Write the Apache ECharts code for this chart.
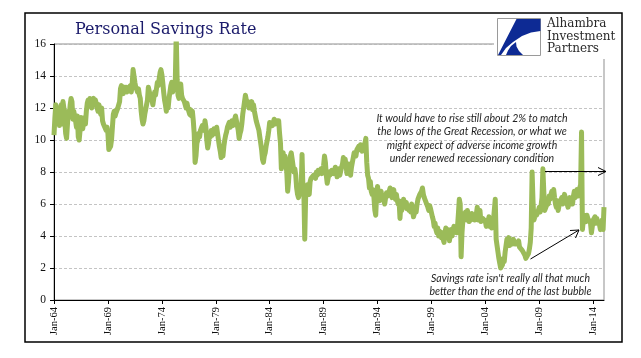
<!DOCTYPE html>
<html><head><meta charset="utf-8">
<script src="https://cdn.jsdelivr.net/npm/echarts@6/dist/echarts.min.js"></script>
<style>html,body{margin:0;padding:0;background:#fff}#c{width:641px;height:358px}</style>
</head><body><div id="c"></div>
<script>
const titleText = 'Personal Savings Rate';
const startYear = 1964;
const monthNames = ['Jan','Feb','Mar','Apr','May','Jun','Jul','Aug','Sep','Oct','Nov','Dec'];
const tickLabels = ['Jan-64','Jan-69','Jan-74','Jan-79','Jan-84','Jan-89','Jan-94','Jan-99','Jan-04','Jan-09','Jan-14'];
const yMin = 0, yMax = 16, yStep = 2;
// monthly personal savings rate, Jan 1964 .. Jan 2015
const savingsRate = [
  10.3,11.4,12.2,12.3,11.2,12.0,10.9,11.8,12.2,11.0,12.4,12.0, // 1964
  11.2,10.4,10.1,11.0,11.8,11.5,12.2,12.6,12.4,11.3,11.8,11.5, // 1965
  11.2,10.8,11.5,10.2,10.0,10.6,11.4,11.0,10.7,11.2,11.4,11.0, // 1966
  11.8,12.3,12.5,12.2,12.6,12.3,12.0,12.4,12.6,12.2,12.5,12.3, // 1967
  12.0,11.8,12.2,11.9,11.6,12.0,11.2,11.0,10.9,11.0,10.6,10.8, // 1968
  10.4,9.4,9.3,9.6,10.0,10.8,11.6,11.8,11.5,11.7,11.8,12.0,    // 1969
  12.0,12.4,13.2,13.4,13.3,12.9,13.3,13.1,13.3,13.0,13.2,13.3, // 1970
  13.2,13.4,13.0,13.5,14.4,14.5,13.6,13.3,13.2,13.0,13.2,12.8, // 1971
  12.6,11.8,11.3,11.0,11.2,11.6,11.5,12.2,12.5,13.3,13.2,12.8, // 1972
  12.8,12.5,12.2,12.6,13.0,12.8,13.2,13.6,13.4,13.8,14.2,14.4, // 1973
  14.1,13.6,13.0,12.5,12.2,11.8,12.4,12.0,12.6,13.0,13.4,13.6, // 1974
  13.0,13.2,13.4,13.8,16.6,13.8,12.8,12.6,13.0,13.5,12.8,12.6, // 1975
  12.6,12.4,12.2,12.0,12.3,12.0,11.8,11.6,11.9,11.5,11.8,11.2, // 1976
  10.4,8.6,9.0,9.8,10.0,10.4,10.2,10.6,10.5,10.9,11.0,10.6,    // 1977
  11.2,10.8,10.0,9.5,9.8,10.4,10.2,10.6,10.3,10.5,10.7,10.4,   // 1978
  10.6,10.8,10.4,10.0,9.6,9.3,8.9,9.2,9.0,9.6,10.0,10.3,       // 1979
  10.5,10.8,10.9,11.1,10.8,11.0,11.2,10.9,11.0,11.3,11.5,11.6, // 1980
  11.4,10.6,10.1,10.4,10.6,11.0,11.6,12.0,12.4,12.8,12.5,12.2, // 1981
  12.4,12.0,12.3,12.1,12.4,11.9,12.2,11.8,11.5,11.2,11.0,11.1, // 1982
  10.6,10.2,9.8,9.4,8.8,8.6,9.0,9.2,9.6,9.5,10.2,10.6,         // 1983
  11.1,11.0,11.2,10.9,11.1,11.3,11.0,11.2,11.3,11.1,11.2,10.4, // 1984
  9.8,8.2,8.8,9.2,8.5,9.0,8.6,8.0,6.8,7.4,8.4,9.0,             // 1985
  9.2,8.8,8.4,8.0,8.2,7.8,7.0,6.6,6.4,6.6,7.0,6.8,             // 1986
  9.1,7.0,6.8,3.8,6.4,6.8,7.2,7.0,6.6,7.4,7.6,7.5,             // 1987
  7.6,7.8,7.9,7.6,8.0,7.8,8.1,7.9,8.0,8.2,7.9,8.1,             // 1988
  8.4,9.0,8.6,7.8,7.3,7.6,8.0,7.8,7.7,8.1,8.2,7.9,             // 1989
  8.0,8.3,8.1,7.7,8.0,8.2,7.8,7.9,8.3,8.5,8.9,8.6,             // 1990
  8.8,8.4,7.9,8.2,8.5,8.1,7.8,8.3,8.6,8.9,9.2,9.3,             // 1991
  9.0,9.4,9.3,9.6,9.4,9.7,9.5,9.3,9.6,9.7,9.8,10.1,            // 1992
  8.6,7.8,7.6,7.0,7.4,6.8,6.6,6.9,6.4,5.6,5.3,6.6,             // 1993
  7.1,6.6,6.2,6.4,6.8,6.3,6.5,6.2,6.0,6.4,6.7,6.5,             // 1994
  6.6,6.8,7.0,6.7,6.4,6.6,6.9,6.5,6.3,6.6,6.2,6.0,             // 1995
  6.2,5.1,6.0,5.6,5.9,6.3,6.0,5.8,6.1,5.7,5.9,5.6,             // 1996
  5.8,5.5,6.0,5.6,5.2,5.4,5.8,5.5,6.0,6.3,6.2,6.6,             // 1997
  6.5,6.8,7.0,6.6,6.4,6.3,6.1,6.2,5.8,5.6,5.9,5.7,             // 1998
  5.6,5.2,5.0,4.6,4.8,4.4,4.2,4.5,4.0,4.3,4.1,3.9,             // 1999
  4.2,3.8,3.6,4.2,4.5,4.0,4.4,4.2,3.7,4.1,4.4,4.0,             // 2000
  4.4,4.6,4.3,4.5,4.2,4.6,5.4,6.3,6.0,2.7,4.2,5.0,             // 2001
  5.4,5.2,5.5,5.0,5.6,5.3,4.9,5.2,5.0,5.4,5.1,5.3,             // 2002
  5.0,5.2,5.4,5.8,5.0,5.3,5.6,4.9,4.8,5.1,5.0,5.2,             // 2003
  4.9,4.6,5.0,4.7,5.2,4.6,4.9,4.5,4.8,5.0,5.1,6.3,             // 2004
  3.8,3.4,3.0,2.6,2.3,2.0,1.9,2.2,2.6,2.4,3.0,3.4,             // 2005
  3.8,3.6,3.9,3.4,3.3,3.7,3.5,3.8,3.9,3.5,3.6,3.4,             // 2006
  3.5,3.7,3.3,3.2,3.4,3.1,3.0,3.2,2.8,2.6,2.5,2.6,             // 2007
  2.9,3.2,3.6,4.5,8.0,6.2,5.0,5.2,5.5,5.3,5.4,5.6,             // 2008
  5.8,5.5,5.9,6.4,8.2,6.8,5.6,5.5,5.9,6.2,6.0,6.5,             // 2009
  6.3,6.6,6.8,6.5,6.9,6.4,6.0,5.8,6.2,5.6,5.9,6.1,             // 2010
  6.2,6.4,6.0,6.3,6.6,6.5,6.2,6.0,5.8,6.1,6.4,6.0,             // 2011
  6.2,6.0,6.5,6.8,6.4,6.6,6.9,6.5,6.8,7.0,7.2,10.5,            // 2012
  4.4,5.0,5.3,5.2,4.9,5.3,5.1,5.2,5.0,4.8,4.2,4.6,             // 2013
  5.0,4.9,5.2,4.8,5.1,4.9,5.0,4.7,4.4,4.6,5.0,4.4,             // 2014
  5.8                                                          // 2015
];
const noteTop = ['It would have to rise still about 2% to match','the lows of the Great Recession, or what we','might expect of adverse income growth','under renewed recessionary condition'];
const noteBottom = ['Savings rate isn\'t really all that much','better than the end of the last bubble'];
const logoLines = ['Alhambra','Investment','Partners'];

const categories = savingsRate.map((_, i) =>
  monthNames[i % 12] + '-' + String((startYear + Math.floor(i / 12)) % 100).padStart(2, '0'));
const showTick = (idx, val) => tickLabels.indexOf(val) >= 0;

const chart = echarts.init(document.getElementById('c'), null, {renderer: 'canvas'});
const serif = '"Liberation Serif", "Times New Roman", serif';
const noteFont = 'italic 10.5px Lato, "Open Sans", sans-serif';

chart.setOption({
  animation: false,
  backgroundColor: '#fff',
  title: {
    text: titleText, left: 75, top: 22, padding: 0,
    textStyle: {fontFamily: '"DejaVu Serif", serif', fontWeight: 'normal', fontSize: 16, color: '#1b1b6b'}
  },
  grid: {left: 54, right: 37, top: 44, bottom: 58, show: true, borderColor: '#8f8f8f', borderWidth: 1},
  xAxis: {
    type: 'category', data: categories, boundaryGap: false,
    axisLine: {lineStyle: {color: '#000', width: 1}},
    axisTick: {show: true, interval: showTick, length: 4, lineStyle: {color: '#000'}},
    axisLabel: {interval: showTick, rotate: 90, margin: 7, fontFamily: serif, fontSize: 10.5, color: '#111'},
    splitLine: {show: false}
  },
  yAxis: {
    type: 'value', min: yMin, max: yMax, interval: yStep,
    axisLine: {show: true, lineStyle: {color: '#000', width: 1}},
    axisTick: {show: true, length: 4, lineStyle: {color: '#000'}},
    axisLabel: {margin: 8, fontFamily: serif, fontSize: 11.5, color: '#111'},
    splitLine: {lineStyle: {color: '#b5b5b5', type: [3, 2], width: 0.8}}
  },
  series: [{
    type: 'line', data: savingsRate, showSymbol: false, symbol: 'none',
    lineStyle: {color: '#9bbb59', width: 5, join: 'round'}, clip: true, z: 3
  }],
  graphic: [
    {type: 'rect', silent: true, z: 100, shape: {x: 25, y: 13, width: 597, height: 329},
      style: {fill: 'none', stroke: '#000', lineWidth: 1.5}},
    // logo
    {type: 'rect', silent: true, z: 101, shape: {x: 494, y: 15, width: 125, height: 44}, style: {fill: '#fff'}},
    {type: 'rect', silent: true, z: 102, shape: {x: 497.5, y: 18.5, width: 43, height: 37},
      style: {fill: '#fff', stroke: '#9a9a9a', lineWidth: 1}},
    {type: 'polygon', silent: true, z: 103, shape: {points: [[516.5,19],[540.5,19],[540.5,31],[531,32.5],[522,36],[513,42],[506,48],[501,55],[498,55]]},
      style: {fill: '#0d2a94'}},
    {type: 'polygon', silent: true, z: 103, shape: {points: [[506,55],[523,55],[519,51],[516.5,46.5],[516,42],[511,46],[508,50.5]]},
      style: {fill: '#0d2a94'}},
    {type: 'text', silent: true, z: 103, x: 547, y: 18,
      style: {text: logoLines.join('\n'), font: '12px "DejaVu Serif", serif', lineHeight: 12.5, fill: '#2a2a2a', textAlign: 'left', textVerticalAlign: 'top'}},
    // annotations
    {type: 'text', silent: true, z: 90, x: 472, y: 112,
      style: {text: noteTop.join('\n'), font: noteFont, lineHeight: 13.3, fill: '#1e1e1e', textAlign: 'center', textVerticalAlign: 'top'}},
    {type: 'text', silent: true, z: 90, x: 510.5, y: 272.5,
      style: {text: noteBottom.join('\n'), font: noteFont, lineHeight: 12.7, fill: '#1e1e1e', textAlign: 'center', textVerticalAlign: 'top'}},
    // arrow 1
    {type: 'line', silent: true, z: 90, shape: {x1: 545, y1: 171.5, x2: 606, y2: 171.5}, style: {stroke: '#000', lineWidth: 1}},
    {type: 'polyline', silent: true, z: 90, shape: {points: [[598,167.5],[606,171.5],[598,175.5]]}, style: {stroke: '#000', lineWidth: 1, fill: null}},
    // arrow 2
    {type: 'line', silent: true, z: 90, shape: {x1: 530.5, y1: 259, x2: 579, y2: 230}, style: {stroke: '#000', lineWidth: 1}},
    {type: 'polyline', silent: true, z: 90, shape: {points: [[570,230.5],[579,230],[575.5,238]]}, style: {stroke: '#000', lineWidth: 1, fill: null}}
  ]
});
</script></body></html>
